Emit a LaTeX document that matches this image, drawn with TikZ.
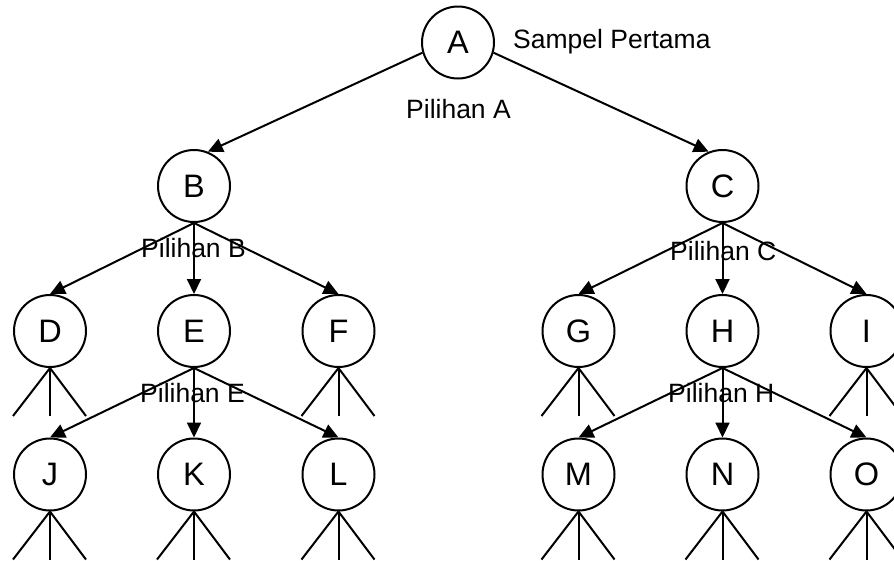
\documentclass[tikz,border=0pt]{standalone}
\usepackage{fontspec}
\setmainfont{Liberation Sans}
\usetikzlibrary{arrows.meta}
\tikzset{
  st/.style={circle, draw, line width=2pt, minimum size=72pt, inner sep=0pt, font=\fontsize{32.5}{36}\selectfont},
  lbl/.style={anchor=base west, inner sep=0pt, font=\fontsize{26.5}{30}\selectfont},
  arr/.style={line width=2pt, -{Triangle[length=15pt,width=14pt]}},
  leg/.style={line width=2pt}
}
\begin{document}
\begin{tikzpicture}[x=1pt,y=-1pt]
\useasboundingbox (0,0) rectangle (894,560);
\clip (0,0) rectangle (894,560);
\node[st] (A) at (458,42.5) {A};
\node[st] (B) at (194,186) {B};
\node[st] (C) at (722.5,186) {C};
\node[st] (D) at (50,331) {D};
\node[st] (E) at (194,331) {E};
\node[st] (F) at (338.5,331) {F};
\node[st] (G) at (578.5,331) {G};
\node[st] (H) at (722.5,331) {H};
\node[st] (I) at (866.5,331) {I};
\node[st] (J) at (50,474.5) {J};
\node[st] (K) at (194,474.5) {K};
\node[st] (L) at (338.5,474.5) {L};
\node[st] (M) at (578.5,474.5) {M};
\node[st] (N) at (722.5,474.5) {N};
\node[st] (O) at (866.5,474.5) {O};

\node[lbl] (sp) at (513,48) {Sampel Pertama};
\node[lbl] (pa) at (406,118) {Pilihan A};
\node[lbl] (pb) at (141,257) {Pilihan B};
\node[lbl] (pc) at (670,260) {Pilihan C};
\node[lbl] (pe) at (140,402) {Pilihan E};
\node[lbl] (ph) at (668,402) {Pilihan H};

\draw[arr] (A.196) -- (B.68);
\draw[arr] (A.-16) -- (C.112);
\foreach \p/\a/\b/\c in {B/D/E/F, C/G/H/I, E/J/K/L, H/M/N/O}{
  \draw[arr] (\p.south) -- (\a.north);
  \draw[arr] (\p.south) -- (\b.north);
  \draw[arr] (\p.south) -- (\c.north);
}
\foreach \n in {D,F,G,I,J,K,L,M,N,O}{
  \draw[leg] (\n.south) -- ++(-37,48);
  \draw[leg] (\n.south) -- ++(0,48);
  \draw[leg] (\n.south) -- ++(36,48);
}
\end{tikzpicture}
\end{document}
